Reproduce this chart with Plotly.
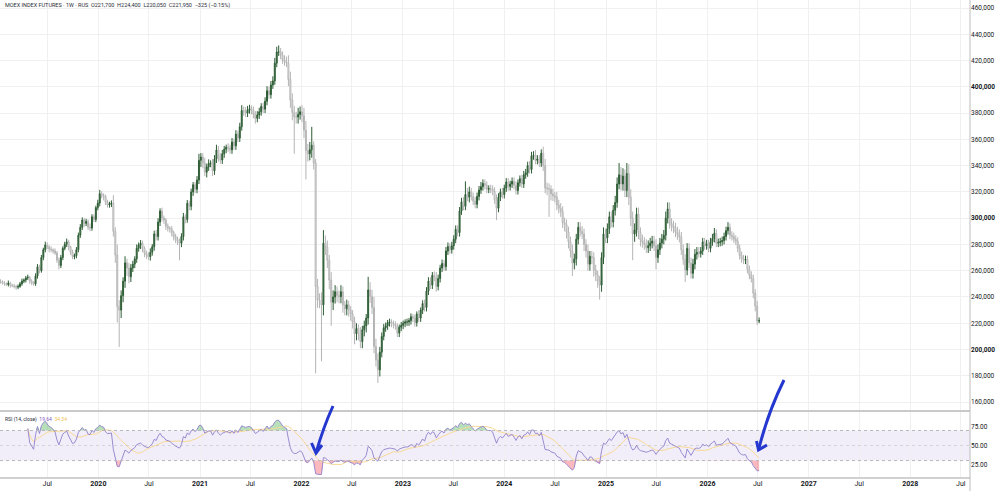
import numpy as np
import pandas as pd
import plotly.graph_objects as go
from plotly.subplots import make_subplots

# ---------------- data (weekly, values in thousands of points) ----------------
start_week = "2019-01-14"
first_open_k = 252.0
close_k = [
    251.6, 250.5, 250, 249.5, 250.5, 249, 248.5, 248, 247.5, 248,
    250, 252, 253, 254.5, 255, 252, 251, 250, 256, 263,
    260, 270, 276, 279.6, 278, 276.5, 276, 275, 273.5, 268,
    264, 270, 277, 280, 282, 278, 274, 270.7, 271.5, 276,
    287, 293, 298.6, 296, 297.5, 293, 292.5, 301, 299, 308,
    311.5, 318.5, 317, 316.5, 312, 310, 311, 311.5, 290, 272,
    232.6, 230, 241, 252, 266, 262, 255.4, 262, 265, 269,
    277, 279.5, 280.9, 277, 273.3, 272, 270.7, 274, 278.3, 288,
    286, 297, 305.5, 300, 298.6, 294, 292.3, 292, 289, 286,
    284, 282.5, 280.9, 286, 301, 299, 311.3, 309, 320, 325.5,
    322, 329, 344, 346.5, 342, 335, 339, 341.8, 342, 336,
    345, 351.9, 347, 344.3, 349, 352.5, 354, 353.5, 352, 358,
    355, 364, 361, 369.6, 382, 381, 380, 382.5, 383.3, 382,
    379, 376, 378.5, 381, 385, 383, 389, 397, 394, 401.4,
    404.5, 418, 426.5, 426.5, 424, 420.5, 419, 418, 405.5, 390,
    380.5, 377, 377, 379, 381, 378, 367, 351.5, 349, 352,
    355.5, 342, 247.8, 237.7, 237.5, 234, 280.9, 278, 268, 252.9,
    236, 240, 244, 241, 240.2, 244, 234, 231, 234, 230,
    227, 221, 212, 216, 212, 206, 215, 218, 224, 245.3,
    240.5, 232, 202.2, 192, 184.5, 198, 210, 216.5, 218, 220.5,
    221, 220, 219, 218, 212.5, 217, 218.5, 220, 221, 221,
    222, 225, 224, 220.5, 227, 224, 230, 235, 232, 244.5,
    252, 249, 256.5, 255, 248, 254, 262, 265.5, 263, 275,
    278.5, 276, 279, 284, 291.5, 289, 305.5, 312.5, 309, 318,
    316, 320, 316.5, 313, 310.5, 316.5, 321.5, 324, 326.5, 325,
    322, 322.5, 322, 320.5, 314, 307.5, 316, 320, 318, 323,
    327.5, 324, 326, 328, 325, 321, 327, 330, 326, 333,
    334.5, 340, 337, 347.5, 348, 344, 345, 342, 349.4, 340,
    323, 322.5, 322, 318.5, 317, 316, 310, 307.5, 305, 296.5,
    295, 289.5, 282, 275, 266, 269, 284, 293, 290, 288,
    280, 275, 265, 271, 270, 260.5, 257, 252, 249, 270,
    288, 285, 292, 301, 297, 306, 312, 326, 333, 326,
    332, 321, 334, 316, 300, 288, 291, 303, 289, 283.4,
    281.5, 280, 277.5, 279, 281, 282.5, 279, 270, 276, 281,
    284, 287, 300, 307, 296, 294, 292.5, 289.5, 287.5, 285.5,
    276, 268.5, 260.5, 277, 266, 258, 265, 272.5, 274, 273,
    275, 282, 279, 280.5, 277, 282, 284.5, 288.5, 281, 281.5,
    282, 283, 286, 290.5, 293, 287, 286, 284, 282.5, 277,
    271.5, 269, 268, 268.5, 261, 256.5, 254, 243, 233, 221.7,
    221.95,
]
up_wick_k = [
    1.5, 1, 1.5, 1, 2, 1, 1, 1.5, 1, 1.5,
    1.5, 2, 1, 1.5, 2, 1, 1.5, 1, 2, 2,
    1.5, 2, 1.5, 2.5, 2, 1.5, 2, 1, 2, 1.5,
    2, 2, 1.5, 2, 2.5, 1.5, 1, 2, 1.5, 2,
    2, 2.5, 2, 1.5, 2, 1.5, 3, 2, 2, 1.5,
    2.5, 3, 2, 2, 1.5, 2, 1.5, 2, 6, 3,
    8, 5, 4, 3, 5, 3, 4, 3, 2.5, 2,
    3, 2, 2.5, 2, 1.5, 2, 2, 3, 2, 2.5,
    3, 3, 2, 2.5, 2, 1.5, 2, 1.5, 2, 1.5,
    2, 2, 2, 2.5, 3, 2, 2.5, 2, 2.5, 2,
    2, 3, 5, 3, 3, 4, 2.5, 3, 2, 3,
    3, 4, 3, 2.5, 3, 2.5, 2, 3, 2.5, 3,
    2.5, 3, 2.5, 3, 4, 3, 3.5, 3, 3, 2.5,
    3, 2.5, 3, 3, 2.5, 3, 3, 3.5, 3, 3,
    3.5, 4, 4, 5, 3, 3, 3.5, 4, 6, 6,
    5, 5, 4, 5, 4, 5, 6, 7, 5, 6,
    14, 3, 3, 6, 5, 6, 10, 6, 5, 4,
    6, 5, 5, 4, 4, 5, 4, 3, 4, 3,
    3, 3, 4, 4, 3, 5, 3, 4, 3, 10,
    6, 5, 8, 6, 5, 4, 3, 3, 2.5, 2,
    2.5, 2, 2, 2.5, 2, 2, 2.5, 2, 2, 2.5,
    2, 2.5, 2, 2.5, 2, 3, 2, 2.5, 3, 3,
    3, 3, 2.5, 3, 4, 3, 2.5, 3, 2.5, 3,
    3, 2.5, 3, 3, 3, 3, 3, 3, 3.5, 10,
    5, 4, 3, 3, 3, 3, 3, 3.5, 3, 3,
    3, 2.5, 3, 3, 3, 4, 3, 2.5, 3, 2.5,
    3, 3, 2.5, 3, 3, 3, 2.5, 2.5, 3, 3,
    3, 3, 3.5, 3, 3, 4, 3, 3, 3, 5,
    5, 4, 4, 3, 4, 3, 4, 4, 4, 4,
    4, 4, 4, 4, 5, 4, 4, 4, 4, 4,
    4, 4, 5, 4, 4, 4, 4, 3, 4, 4,
    5, 4, 4, 4, 4, 4, 5, 5, 9, 6,
    6, 5, 8, 7, 6, 5, 5, 5, 5, 4,
    4, 4, 4, 4, 4, 4, 4, 5, 4, 4,
    4, 4, 5, 5, 5, 4, 4, 4, 4, 4,
    4, 4, 4, 4, 4, 4, 4, 4, 4, 4,
    3, 3, 3, 3, 3, 3, 3.5, 4, 3, 3,
    3, 3, 3, 3, 4, 3, 3, 3, 3, 3,
    3, 3, 3, 3, 3, 3, 3, 3, 3, 4,
    2.45,
]
down_wick_k = [
    1.5, 1, 1.5, 1, 1.5, 2, 1, 1.5, 2, 1.5,
    1, 1.5, 1.5, 2, 1.5, 2, 2, 1.5, 1.5, 2,
    2, 1.5, 2, 2, 1.5, 2.5, 2, 2, 1.5, 2,
    3, 2, 2, 1.5, 2, 2.5, 2, 2, 2, 2,
    2, 2, 2, 2.5, 2, 2, 2.5, 2, 2, 2,
    2, 2.5, 2, 3, 2, 2, 2, 2.5, 4, 6,
    12, 28, 6, 5, 5, 6, 5, 4, 3, 3,
    3, 2.5, 3, 3, 3, 3, 2.5, 3, 2.5, 3,
    3, 3, 3, 2.5, 3, 3, 2.5, 3, 3, 3,
    3, 3, 13, 3, 3, 3, 2.5, 3, 3, 3,
    3, 3, 3, 5, 4, 3, 4, 3, 3, 4,
    3, 3, 4, 3, 3, 3, 3, 3, 3, 3,
    3, 3, 3, 3, 3, 3, 3, 3, 3, 3,
    3, 4, 3, 3, 3, 3, 3, 3, 3, 3,
    3, 3, 3, 3, 3, 3, 3, 3, 5, 6,
    6, 28, 5, 5, 4, 5, 6, 22, 6, 5,
    6, 5, 66, 6, 6, 43, 8, 6, 6, 7,
    18, 6, 5, 5, 5, 5, 6, 5, 5, 5,
    5, 5, 8, 5, 5, 5, 5, 5, 5, 5,
    5, 5, 5, 5, 10, 5, 4, 3, 3, 3,
    3, 3, 3, 3, 3, 3, 3, 3, 3, 3,
    3, 3, 3, 3, 3, 3, 3, 3, 3, 3,
    3, 3, 3, 3, 4, 3, 3, 3, 3, 3,
    3, 3, 3, 3, 3, 3, 3, 3, 3, 3,
    3, 4, 3, 3, 3, 3, 3, 3, 3, 3,
    3, 3, 3, 3, 3, 9, 3, 3, 3, 3,
    3, 3, 3, 3, 3, 3, 3, 3, 3, 3,
    3, 3, 3, 3, 3, 3, 3, 3, 3, 4,
    4, 5, 21, 5, 4, 4, 4, 4, 4, 4,
    5, 5, 5, 5, 10, 5, 5, 4, 4, 4,
    5, 5, 5, 5, 5, 5, 5, 5, 11, 5,
    5, 4, 4, 4, 4, 4, 4, 4, 4, 5,
    5, 5, 5, 6, 6, 20, 6, 5, 5, 5,
    4, 4, 4, 4, 4, 4, 4, 9, 4, 4,
    4, 4, 4, 4, 4, 4, 4, 4, 4, 4,
    4, 4, 9, 4, 4, 4, 4, 4, 4, 3,
    3, 3, 3, 3, 3, 3, 3, 3, 3, 3,
    3, 3, 3, 3, 3, 3, 3, 3, 3, 3,
    3, 3, 3, 3, 3, 3, 3, 4, 4, 3,
    1.65,
]

price_ticks = list(range(160000, 460001, 20000))
rsi_ticks = [25, 50, 75]
title_text = "MOEX INDEX FUTURES · 1W · RUS  O221,700  H224,400  L220,050  C221,950  −325 (−0.15%)"
rsi_label = "RSI (14, close)"
rsi_value_txt = "19.64"
rsi_ma_txt = "34.34"
rsi_len = 14

# ---------------- derived ----------------
dates = pd.date_range(start_week, periods=len(close_k), freq="7D")
close = np.array(close_k) * 1000
open_ = np.concatenate([[first_open_k], close_k[:-1]]) * 1000
high = np.maximum(open_, close) + np.array(up_wick_k) * 1000
low = np.minimum(open_, close) - np.array(down_wick_k) * 1000

s = pd.Series(close)
d = s.diff()
gain = d.clip(lower=0).fillna(0)
loss = (-d).clip(lower=0).fillna(0)
ag = gain.ewm(alpha=1 / rsi_len, adjust=True).mean()
al = loss.ewm(alpha=1 / rsi_len, adjust=True).mean()
rsi = 100 - 100 / (1 + ag / al.replace(0, np.nan))
rsi.iloc[:rsi_len] = np.nan
rsi_ma = rsi.rolling(rsi_len, min_periods=1).mean()
rsi_v = rsi.to_numpy()
valid = ~np.isnan(rsi_v)

# ---------------- figure ----------------
W, H = 1000, 491
ML, MR, MT, MB = 0, 30, 0, 13
PW, PH = W - ML - MR, H - MT - MB

fig = make_subplots(rows=2, cols=1, shared_xaxes=True, vertical_spacing=0.0)

fig.add_trace(go.Candlestick(
    x=dates, open=open_, high=high, low=low, close=close,
    increasing=dict(line=dict(color="#2d5c34", width=1), fillcolor="#4b7d53"),
    decreasing=dict(line=dict(color="#b4b4b4", width=1), fillcolor="#ffffff"),
    whiskerwidth=0, hoverinfo="skip", showlegend=False,
), row=1, col=1)

# overbought / oversold fills
fig.add_trace(go.Scatter(x=dates, y=np.where(valid, 70.0, np.nan), mode="lines",
                         line=dict(width=0, color="rgba(0,0,0,0)"), showlegend=False,
                         hoverinfo="skip"), row=2, col=1)
fig.add_trace(go.Scatter(x=dates, y=np.where(valid, np.maximum(rsi_v, 70), np.nan),
                         mode="lines", line=dict(width=0, color="rgba(0,0,0,0)"), fill="tonexty",
                         fillcolor="rgba(76,175,80,0.40)", showlegend=False,
                         hoverinfo="skip"), row=2, col=1)
fig.add_trace(go.Scatter(x=dates, y=np.where(valid, 30.0, np.nan), mode="lines",
                         line=dict(width=0, color="rgba(0,0,0,0)"), showlegend=False,
                         hoverinfo="skip"), row=2, col=1)
fig.add_trace(go.Scatter(x=dates, y=np.where(valid, np.minimum(rsi_v, 30), np.nan),
                         mode="lines", line=dict(width=0, color="rgba(0,0,0,0)"), fill="tonexty",
                         fillcolor="rgba(242,54,69,0.35)", showlegend=False,
                         hoverinfo="skip"), row=2, col=1)
fig.add_trace(go.Scatter(x=dates, y=rsi_ma, mode="lines",
                         line=dict(color="#f8d996", width=1), showlegend=False,
                         hoverinfo="skip"), row=2, col=1)
fig.add_trace(go.Scatter(x=dates, y=rsi_v, mode="lines",
                         line=dict(color="#9080cc", width=0.9), showlegend=False,
                         hoverinfo="skip"), row=2, col=1)

# x ticks: Jan (year) and Jul
xt_vals, xt_text = [], []
for yr in range(2019, 2029):
    if yr > 2019:
        xt_vals.append(pd.Timestamp(f"{yr}-01-01"))
        xt_text.append(f"<b>{yr}</b>")
    xt_vals.append(pd.Timestamp(f"{yr}-07-01"))
    xt_text.append("Jul")

x_range = [pd.Timestamp("2019-01-12"), pd.Timestamp("2028-08-03")]

def py(ypx):
    return (H - MB - ypx) / PH

def px(xpx):
    return (xpx - ML) / PW

sep_paper = py(411)
fig.update_layout(
    width=W, height=H,
    margin=dict(l=ML, r=MR, t=MT, b=MB),
    paper_bgcolor="white", plot_bgcolor="white",
    font=dict(family="Roboto, Open Sans, sans-serif", size=7, color="#131722"),
    showlegend=False,
    xaxis=dict(range=x_range, tickvals=xt_vals, ticktext=xt_text, showticklabels=False,
               showgrid=True, gridcolor="#f0f0f0", gridwidth=1, zeroline=False,
               rangeslider=dict(visible=False), showline=False, ticks=""),
    xaxis2=dict(range=x_range, tickvals=xt_vals, ticktext=xt_text, showticklabels=True,
                showgrid=True, gridcolor="#f0f0f0", gridwidth=1, zeroline=False,
                showline=False, ticks="", tickfont=dict(size=7, color="#131722")),
    yaxis=dict(domain=[py(410), 1], range=[153950, 466090], side="right",
               tickvals=price_ticks,
               ticktext=[(f"<b>{v:,}</b>" if v % 100000 == 0 else f"{v:,}") for v in price_ticks],
               showgrid=True, gridcolor="#f0f0f0", zeroline=False, ticks="",
               tickfont=dict(size=6.5, color="#131722"), showline=False),
    yaxis2=dict(domain=[0, py(412)], range=[6.8, 94.6], side="right",
                tickvals=rsi_ticks, ticktext=[f"{v:.2f}" for v in rsi_ticks],
                showgrid=False, zeroline=False, ticks="",
                tickfont=dict(size=6.5, color="#131722"), showline=False),
)

shapes = [
    # RSI band
    dict(type="rect", xref="paper", yref="y2", x0=0, x1=1, y0=30, y1=70,
         fillcolor="rgba(126,87,194,0.10)", line=dict(width=0), layer="below"),
    dict(type="line", xref="paper", yref="y2", x0=0, x1=1, y0=70, y1=70,
         line=dict(color="#b8b8b8", width=1, dash="dot")),
    dict(type="line", xref="paper", yref="y2", x0=0, x1=1, y0=30, y1=30,
         line=dict(color="#b8b8b8", width=1, dash="dot")),
    dict(type="line", xref="paper", yref="y2", x0=0, x1=1, y0=50, y1=50,
         line=dict(color="rgba(160,160,160,0.35)", width=1, dash="dot")),
    # pane separator and bottom line
    dict(type="line", xref="paper", yref="paper", x0=0, x1=1, y0=sep_paper, y1=sep_paper,
         line=dict(color="#c9c9c9", width=2)),
    dict(type="line", xref="paper", yref="paper", x0=0, x1=1, y0=0, y1=0,
         line=dict(color="#d0d0d0", width=2)),
    # right axis line
    dict(type="line", xref="paper", yref="paper", x0=1, x1=1, y0=py(491), y1=1,
         line=dict(color="#bdbdbd", width=1)),
]

def pt(x, y):
    return f"{px(x):.5f},{py(y):.5f}"

arrow_color = "#2438d0"
for top, ctrl, tip, b1, b2 in [
    ((333, 406), (323, 428), (316, 453), (311.5, 443), (322, 445)),
    ((784, 380), (768, 412), (758.5, 450), (756.5, 441), (767, 445)),
]:
    shapes.append(dict(type="path", xref="paper", yref="paper",
                       path=f"M {pt(*top)} Q {pt(*ctrl)} {pt(*tip)}",
                       line=dict(color=arrow_color, width=3)))
    shapes.append(dict(type="path", xref="paper", yref="paper",
                       path=f"M {pt(*b1)} L {pt(*tip)} L {pt(*b2)}",
                       line=dict(color=arrow_color, width=3)))
fig.update_layout(shapes=shapes)

fig.add_annotation(xref="paper", yref="paper", x=px(3), y=py(6), xanchor="left", yanchor="middle",
                   text=title_text, showarrow=False,
                   font=dict(size=5.5, color="#2a2e39"))
fig.add_annotation(xref="paper", yref="paper", x=px(3), y=py(419), xanchor="left", yanchor="middle",
                   text=(f"<span style='color:#2a2e39'>{rsi_label}</span>  "
                         f"<span style='color:#7e57c2'>{rsi_value_txt}</span>  "
                         f"<span style='color:#f0c050'>{rsi_ma_txt}</span>"),
                   showarrow=False, font=dict(size=5))

fig.write_html("out.html")
